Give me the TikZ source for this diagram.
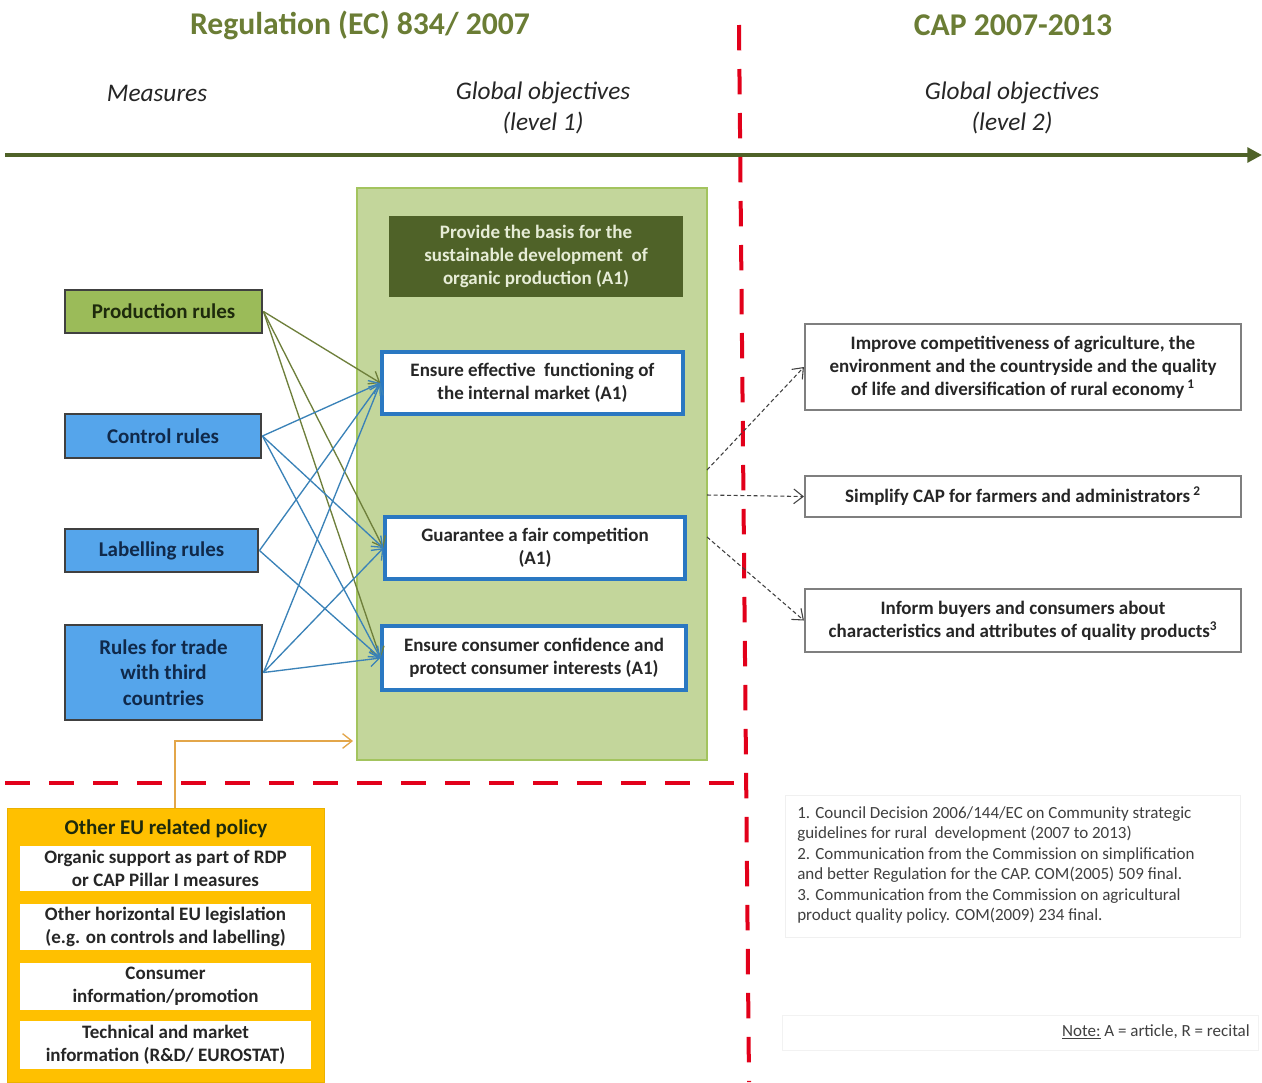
\documentclass[tikz,border=0pt]{standalone}
\usepackage{fontspec}
\setmainfont{Carlito}
\usetikzlibrary{arrows.meta}
\definecolor{titlegreen}{HTML}{6B7D35}
\definecolor{axisgreen}{HTML}{4F6228}
\definecolor{redline}{HTML}{E2001A}
\definecolor{lgreen}{HTML}{C3D69B}
\definecolor{lgreenb}{HTML}{A3C45E}
\definecolor{dgreen}{HTML}{4F6228}
\definecolor{dgreentext}{HTML}{E6ECD6}
\definecolor{objblue}{HTML}{2A78C2}
\definecolor{prodfill}{HTML}{9BBB59}
\definecolor{bluefill}{HTML}{55A5EB}
\definecolor{boxgray}{HTML}{404040}
\definecolor{navytext}{HTML}{10294A}
\definecolor{olivetext}{HTML}{1E2A0C}
\definecolor{olivearrow}{HTML}{6E7F3B}
\definecolor{bluearrow}{HTML}{3A82B8}
\definecolor{darktext}{HTML}{262626}
\definecolor{rgray}{HTML}{7F7F7F}
\definecolor{orangefill}{HTML}{FFC000}
\definecolor{orangearrow}{HTML}{E3A64A}
\definecolor{fntext}{HTML}{404040}
\begin{document}
\begin{tikzpicture}[x=0.75pt,y=-0.75pt,
  sz/.style 2 args={minimum width=#1*0.75pt, minimum height=#2*0.75pt, inner sep=0pt},
  title/.style={font=\bfseries\fontsize{23.75}{28}\selectfont, text=titlegreen},
  subhead/.style={font=\itshape\fontsize{19}{23.25}\selectfont, text=darktext, align=center},
  lbox/.style={draw=boxgray, line width=2.2pt, align=center,
    font=\bfseries\fontsize{15.75}{19}\selectfont},
  objbox/.style={draw=objblue, fill=white, line width=2.4pt, align=center,
    text=darktext, font=\bfseries\fontsize{14.25}{17.25}\selectfont},
  rbox/.style={draw=rgray, fill=white, line width=1.6pt, align=center,
    text=darktext, font=\bfseries\fontsize{14.25}{17.25}\selectfont},
  ibox/.style={fill=white, align=center,
    text=darktext, font=\bfseries\fontsize{14.25}{17.25}\selectfont},
  redd/.style={draw=redline, line width=3pt, dash pattern=on 19pt off 14pt},
  tipb/.style={-{Straight Barb[length=7pt,width=11pt]}},
  oarr/.style={draw=olivearrow, line width=1pt, tipb},
  barr/.style={draw=bluearrow, line width=1pt, tipb},
  darr/.style={draw=boxgray, line width=0.8pt, dash pattern=on 3pt off 2pt, tipb},
  orarr/.style={draw=orangearrow, line width=1pt, tipb}
]
\useasboundingbox (0,0) rectangle (1262,1082);
\fill[white] (0,0) rectangle (1262,1082);

% headings
\node[title] (t1) at (360,25) {Regulation (EC) 834/ 2007};
\node[title] (t2) at (1013,25) {CAP 2007-2013};
\node[subhead] (meas) at (157,93) {Measures};
\node[subhead] (gl1) at (543,108) {Global objectives\\(level 1)};
\node[subhead] (gl2) at (1012,108) {Global objectives\\(level 2)};

% axis
\coordinate (axL) at (5,155);
\coordinate (axR) at (1262,155);
\draw[axisgreen, line width=3.5pt, -{Triangle[length=11pt,width=11pt]}] (axL) -- (axR);

% red dashed separators
\coordinate (rv1) at (739,25);
\coordinate (rv2) at (749,1082);
\coordinate (rh1) at (5,783);
\coordinate (rh2) at (745,783);
\draw[redd] (rv1) -- (rv2);
\draw[redd] (rh1) -- (rh2);

% central green box
\node[sz={350}{572}, fill=lgreen, draw=lgreenb, line width=2pt] (green) at (532,474) {};
\node[sz={294}{81}, fill=dgreen, text=dgreentext, align=center,
  font=\bfseries\fontsize{14.25}{17.25}\selectfont] (a1) at (536,256.5)
  {Provide the basis for the\\sustainable development\ \ of\\organic production (A1)};
\node[objbox, sz={301}{62}] (o1) at (532.5,383) {Ensure effective\ \ functioning of\\the internal market (A1)};
\node[objbox, sz={300}{62}] (o2) at (535,548) {Guarantee a fair competition\\(A1)};
\node[objbox, sz={304}{64}] (o3) at (534,658) {Ensure consumer confidence and\\protect consumer interests (A1)};

% left measure boxes
\node[lbox, sz={197}{43}, fill=prodfill, text=olivetext] (prod) at (163.5,311.5) {Production rules};
\node[lbox, sz={196}{44}, fill=bluefill, text=navytext] (ctrl) at (163,436) {Control rules};
\node[lbox, sz={193}{43}, fill=bluefill, text=navytext] (lab) at (161.5,550.5) {Labelling rules};
\node[lbox, sz={197}{95}, fill=bluefill, text=navytext] (trade) at (163.5,672.5) {Rules for trade\\with third\\countries};

% connectors measures -> objectives
\draw[oarr] (prod.east) -- (o1.west);
\draw[oarr] (prod.east) -- (o2.west);
\draw[oarr] (prod.east) -- (o3.west);
\draw[barr] (ctrl.east) -- (o1.west);
\draw[barr] (ctrl.east) -- (o2.west);
\draw[barr] (ctrl.east) -- (o3.west);
\draw[barr] (lab.east) -- (o1.west);
\draw[barr] (lab.east) -- (o3.west);
\draw[barr] (trade.east) -- (o1.west);
\draw[barr] (trade.east) -- (o2.west);
\draw[barr] (trade.east) -- (o3.west);

% right CAP objectives
\node[rbox, sz={436}{86}] (r1) at (1023,367) {Improve competitiveness of agriculture, the\\environment and the countryside and the quality\\of life and diversification of rural economy\,\textsuperscript{1}};
\node[rbox, sz={436}{41}] (r2) at (1023,496.5) {Simplify CAP for farmers and administrators\,\textsuperscript{2}};
\node[rbox, sz={436}{63}] (r3) at (1023,620.5) {Inform buyers and consumers about\\characteristics and attributes of quality products\textsuperscript{3}};

\coordinate (ge1) at (707,470);
\coordinate (ge2) at (707,495);
\coordinate (ge3) at (707,537);
\draw[darr] (ge1) -- (r1.west);
\draw[darr] (ge2) -- (r2.west);
\draw[darr] (ge3) -- (r3.west);

% other EU related policy
\node[sz={317}{274}, fill=orangefill, draw=orangefill!92!black, line width=0.6pt] (other) at (165.5,945) {};
\node[text=olivetext, font=\bfseries\fontsize{15.75}{19}\selectfont] (otitle) at (166,829) {Other EU related policy};
\node[ibox, sz={291}{45}] (i1) at (165.5,868.5) {Organic support as part of RDP\\or CAP Pillar I measures};
\node[ibox, sz={291}{46}] (i2) at (165.5,927) {Other horizontal EU legislation\\(e.g. on controls and labelling)};
\node[ibox, sz={291}{47}] (i3) at (165.5,986.5) {Consumer\\information/promotion};
\node[ibox, sz={291}{48}] (i4) at (165.5,1045) {Technical and market\\information (R\&D/ EUROSTAT)};

\coordinate (oa) at (175,808);
\coordinate (ob) at (353,741);
\draw[orarr] (oa) |- (ob);

% footnotes
\node[sz={455}{142}, draw=black!6] (fnbox) at (1012.5,866) {};
\node[anchor=west, align=left, inner sep=0pt, text=fntext, font=\fontsize{12.75}{15.3}\selectfont] (fn) at (797,865)
 {1. Council Decision 2006/144/EC on Community strategic\\
  guidelines for rural\ \ development (2007 to 2013)\\
  2. Communication from the Commission on simplification\\
  and better Regulation for the CAP. COM(2005) 509 final.\\
  3. Communication from the Commission on agricultural\\
  product quality policy. COM(2009) 234 final.};
\node[sz={476}{35}, draw=black!5] (notebox) at (1020,1032.5) {};
\node[anchor=east, inner sep=0pt, text=fntext, font=\fontsize{12.75}{15.3}\selectfont] (note) at (1250,1032)
 {\underline{Note:} A = article, R = recital};
\end{tikzpicture}
\end{document}
